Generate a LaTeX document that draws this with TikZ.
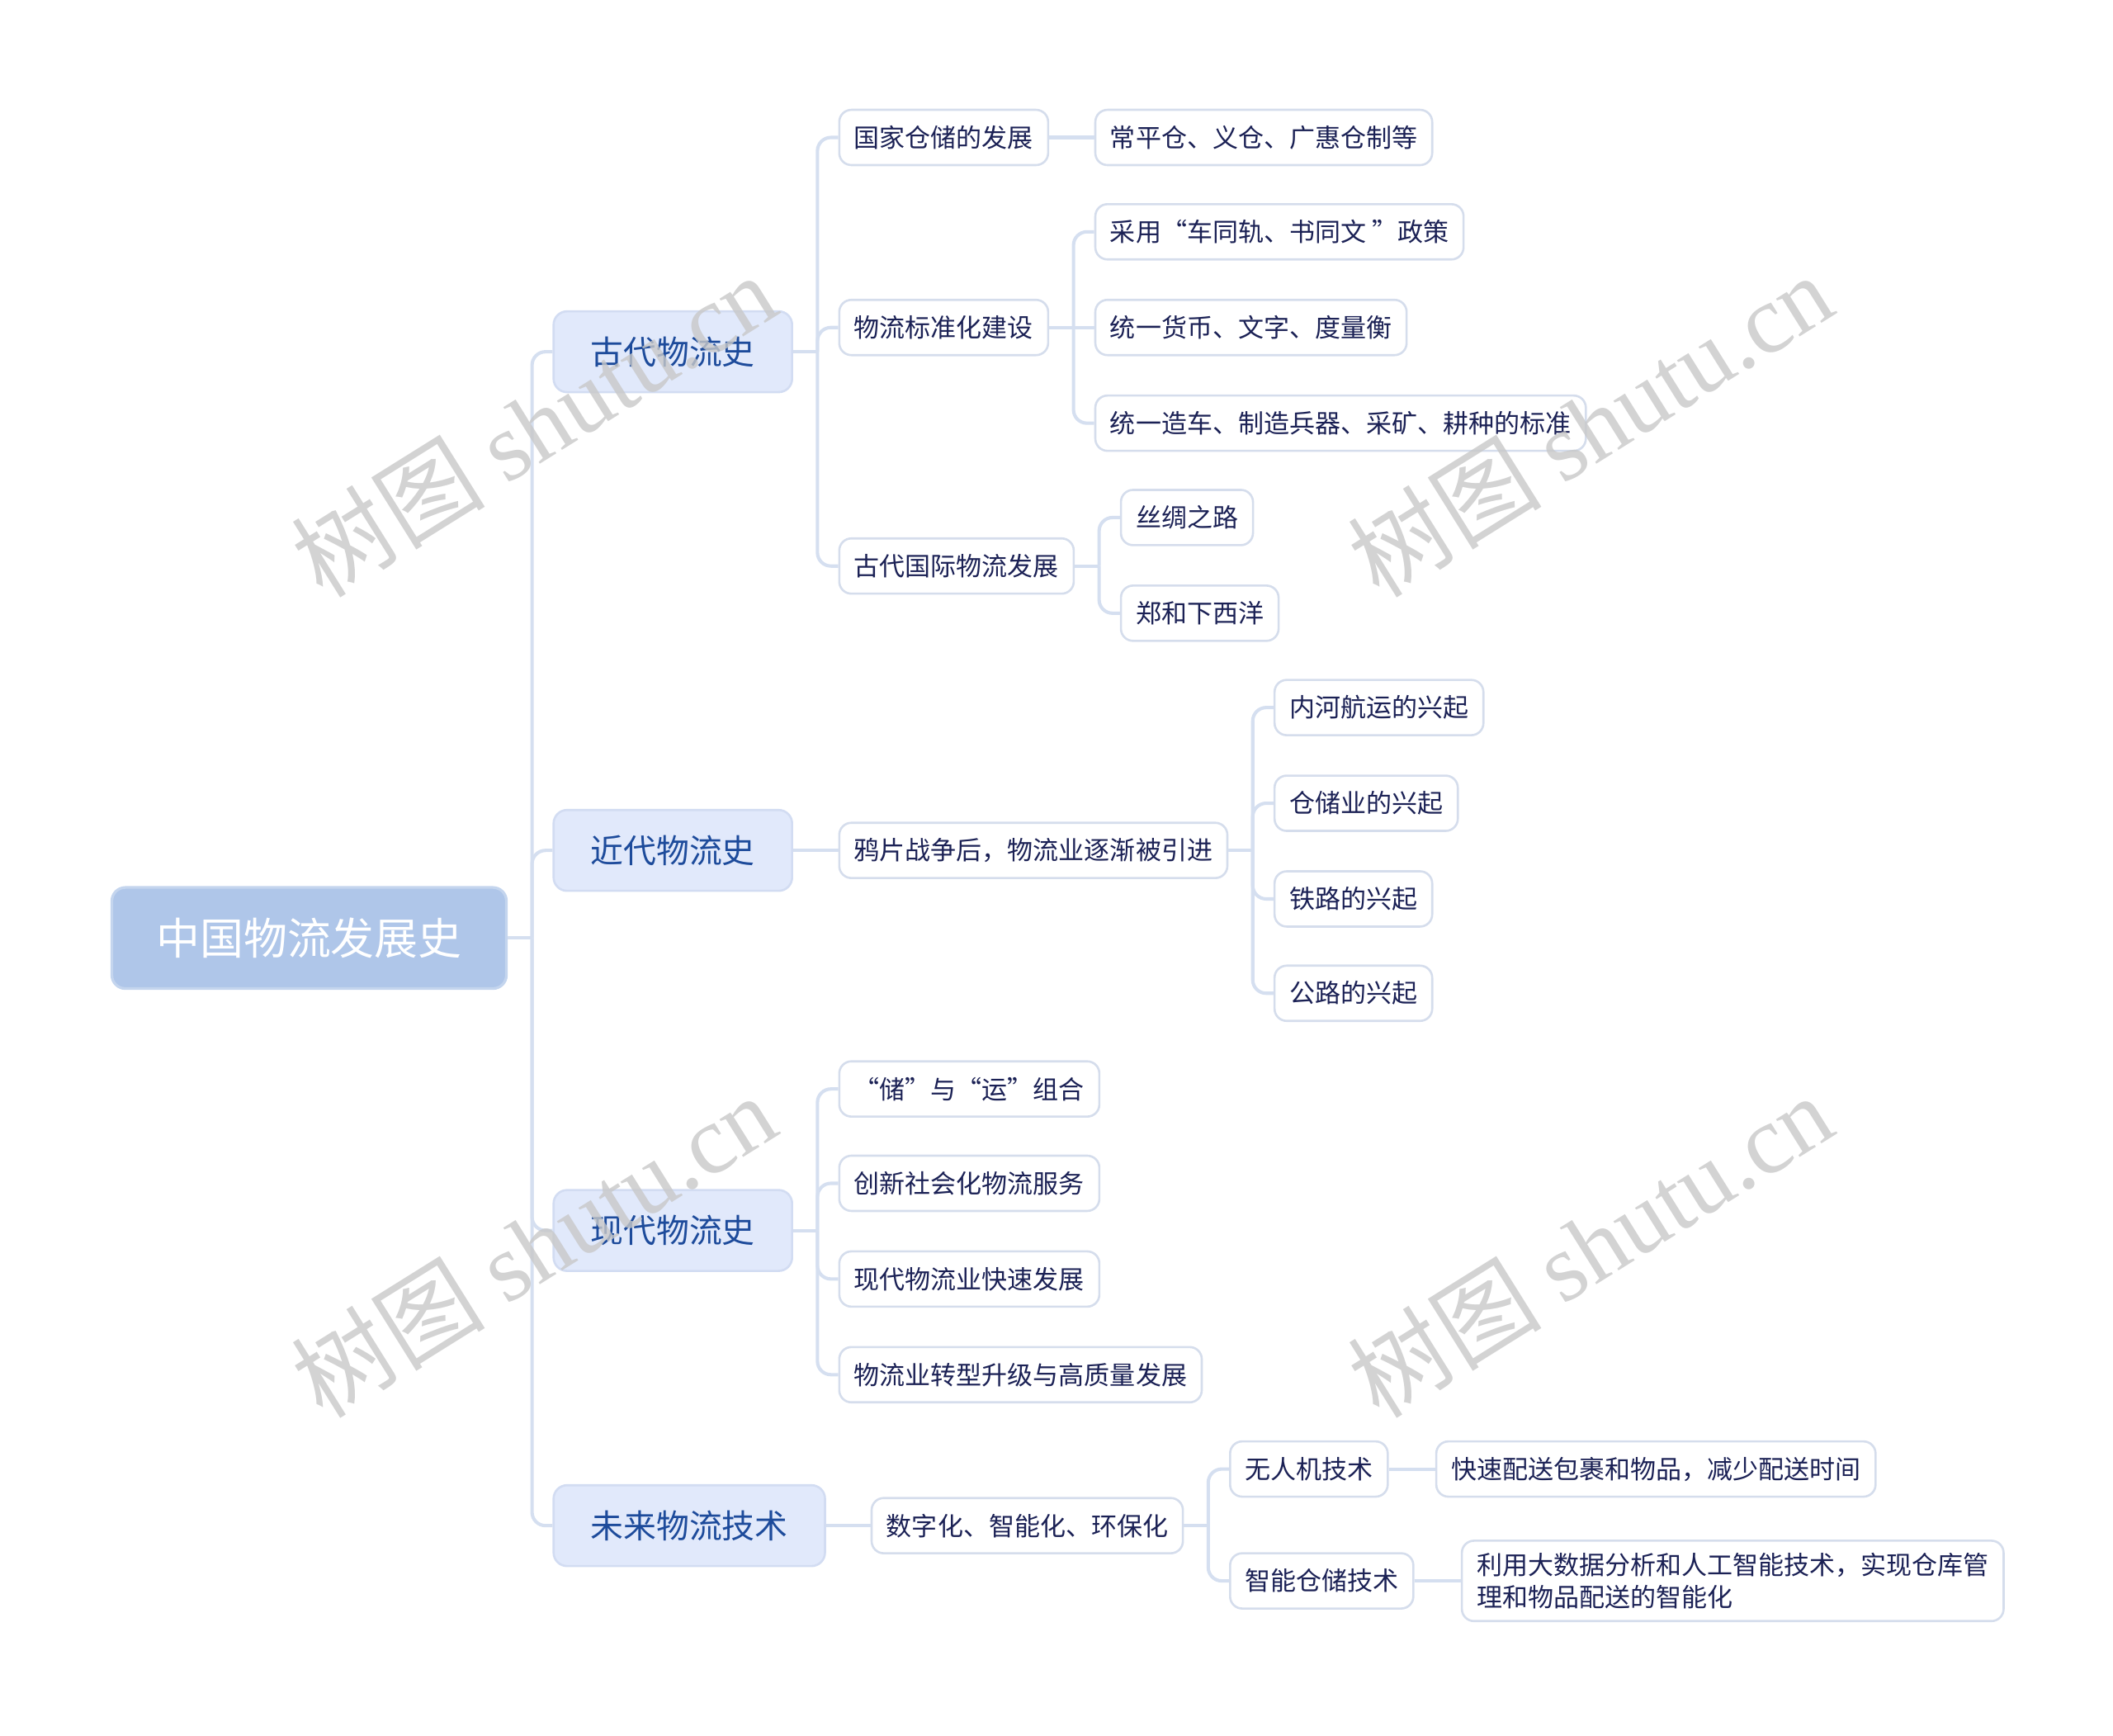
\documentclass[tikz,border=0pt]{standalone}
\usepackage{fontspec}
\newfontfamily\cjk{Noto Sans CJK SC}
\newfontfamily\cjkfw[CharacterWidth=Full]{Noto Sans CJK SC}
\newfontfamily\wmlatin{Liberation Serif}
\newcommand\fwq[1]{{\cjkfw #1}}
\definecolor{linec}{HTML}{D5DFF0}
\definecolor{rootfill}{HTML}{AFC6E9}
\definecolor{rootborder}{HTML}{C4D5EE}
\definecolor{lonefill}{HTML}{E1E9FB}
\definecolor{loneborder}{HTML}{D2DCF2}
\definecolor{lonetext}{HTML}{1D4B9B}
\definecolor{leafborder}{HTML}{D5DDEC}
\definecolor{leaftext}{HTML}{1B2155}
\definecolor{wmgray}{HTML}{C8C8C8}
\begin{document}
\begin{tikzpicture}[x=0.5pt,y=-0.5pt,
  rootbox/.style={draw=rootborder, line width=1pt, fill=rootfill, rounded corners=5pt,
    text=white, font=\cjk\fontsize{16.2pt}{19pt}\selectfont, inner xsep=16.5pt,
    inner ysep=0pt, minimum height=37.5pt, anchor=west},
  topicbox/.style={draw=loneborder, line width=0.8pt, fill=lonefill, rounded corners=5pt,
    text=lonetext, font=\cjk\fontsize{12.2pt}{14pt}\selectfont, inner xsep=13.75pt,
    inner ysep=0pt, minimum height=30pt, anchor=west},
  leafbox/.style={draw=leafborder, line width=0.8pt, fill=white, rounded corners=4.5pt,
    text=leaftext, font=\cjk\fontsize{9.5pt}{12pt}\selectfont, inner xsep=5.5pt,
    inner ysep=0pt, minimum height=20.5pt, anchor=west},
  conn/.style={draw=linec, line width=1.25pt, rounded corners=5pt},
  wm/.style={text=wmgray, text opacity=0.8, rotate=32, inner sep=0pt}
]
\useasboundingbox (0,0) rectangle (1568,1288);

% root and main topics
\node[rootbox] (root) at (82,696) {中国物流发展史};
\node[topicbox] (gd) at (410,261) {古代物流史};
\node[topicbox] (jd) at (410,631) {近代物流史};
\node[topicbox] (xd) at (410,913) {现代物流史};
\node[topicbox] (wl) at (410,1132) {未来物流技术};

% ancient
\node[leafbox] (gd1) at (622,102) {国家仓储的发展};
\node[leafbox] (gd2) at (622,243) {物流标准化建设};
\node[leafbox] (gd3) at (622,420) {古代国际物流发展};
\node[leafbox] (gd1a) at (812,102) {常平仓、义仓、广惠仓制等};
\node[leafbox] (gd2a) at (812,172) {采用\fwq{“}车同轨、书同文 \fwq{”}政策};
\node[leafbox] (gd2b) at (812,243) {统一货币、文字、度量衡};
\node[leafbox] (gd2c) at (812,314) {统一造车、制造兵器、采矿、耕种的标准};
\node[leafbox] (gd3a) at (831,384) {丝绸之路};
\node[leafbox] (gd3b) at (831,455) {郑和下西洋};

% modern (early)
\node[leafbox] (jd1) at (622,631) {鸦片战争后，物流业逐渐被引进};
\node[leafbox] (jd1a) at (945,525) {内河航运的兴起};
\node[leafbox] (jd1b) at (945,596) {仓储业的兴起};
\node[leafbox] (jd1c) at (945,667) {铁路的兴起};
\node[leafbox] (jd1d) at (945,737) {公路的兴起};

% contemporary
\node[leafbox] (xd1) at (622,808) {\fwq{“}储\fwq{”}与\fwq{“}运\fwq{”}组合};
\node[leafbox] (xd2) at (622,878) {创新社会化物流服务};
\node[leafbox] (xd3) at (622,949) {现代物流业快速发展};
\node[leafbox] (xd4) at (622,1020) {物流业转型升级与高质量发展};

% future
\node[leafbox] (wl1) at (646,1132) {数字化、智能化、环保化};
\node[leafbox] (wl1a) at (912,1090) {无人机技术};
\node[leafbox] (wl1b) at (912,1173) {智能仓储技术};
\node[leafbox] (wl1a1) at (1065,1090) {快速配送包裹和物品，减少配送时间};
\node[leafbox, align=left, inner ysep=4.5pt] (wl1b1) at (1084,1173)
  {利用大数据分析和人工智能技术，实现仓库管\\理和物品配送的智能化};

% connectors
\begin{scope}[on background layer/.style={}]
\draw[conn] (root.east) -- ([xshift=9pt]root.east);
\foreach \c in {gd,jd,xd,wl} \draw[conn] ([xshift=9pt]root.east) |- (\c.west);

\draw[conn] (gd.east) -- ([xshift=9pt]gd.east);
\foreach \c in {gd1,gd2,gd3} \draw[conn] ([xshift=9pt]gd.east) |- (\c.west);
\draw[conn] (gd1.east) -- (gd1a.west);
\draw[conn] (gd2.east) -- (gd2b.west);
\foreach \c in {gd2a,gd2c} \draw[conn] ([xshift=9pt]gd2.east) |- (\c.west);
\draw[conn] (gd3.east) -- ([xshift=9pt]gd3.east);
\foreach \c in {gd3a,gd3b} \draw[conn] ([xshift=9pt]gd3.east) |- (\c.west);

\draw[conn] (jd.east) -- (jd1.west);
\draw[conn] (jd1.east) -- ([xshift=9pt]jd1.east);
\foreach \c in {jd1a,jd1b,jd1c,jd1d} \draw[conn] ([xshift=9pt]jd1.east) |- (\c.west);

\draw[conn] (xd.east) -- ([xshift=9pt]xd.east);
\foreach \c in {xd1,xd2,xd3,xd4} \draw[conn] ([xshift=9pt]xd.east) |- (\c.west);

\draw[conn] (wl.east) -- (wl1.west);
\draw[conn] (wl1.east) -- ([xshift=9pt]wl1.east);
\foreach \c in {wl1a,wl1b} \draw[conn] ([xshift=9pt]wl1.east) |- (\c.west);
\draw[conn] (wl1a.east) -- (wl1a1.west);
\draw[conn] (wl1b.east) -- (wl1b1.west);
\end{scope}

% watermarks
\node[wm] (wm1) at (396,315) {\cjk\fontsize{36pt}{40pt}\selectfont 树图 \wmlatin shutu.cn};
\node[wm] (wm2) at (1180,315) {\cjk\fontsize{36pt}{40pt}\selectfont 树图 \wmlatin shutu.cn};
\node[wm] (wm3) at (396,924) {\cjk\fontsize{36pt}{40pt}\selectfont 树图 \wmlatin shutu.cn};
\node[wm] (wm4) at (1180,924) {\cjk\fontsize{36pt}{40pt}\selectfont 树图 \wmlatin shutu.cn};
\end{tikzpicture}
\end{document}
